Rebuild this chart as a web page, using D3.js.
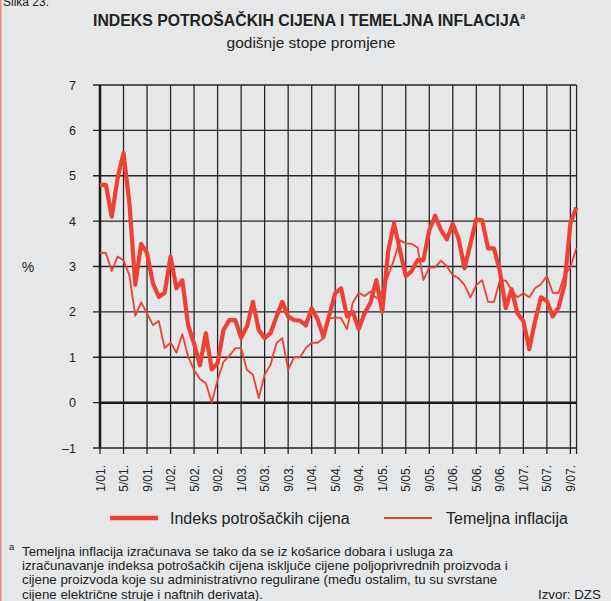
<!DOCTYPE html>
<html>
<head>
<meta charset="utf-8">
<script src="https://cdn.jsdelivr.net/npm/d3@7"></script>
<style>
  body { margin: 0; background: #e6e7e8; }
  svg { display: block; font-family: "Liberation Sans", Arial, sans-serif; }
</style>
</head>
<body>
<script>
// monthly data, 1/2001 - 10/2007
const startYear = 2001;
const cpi = [4.8, 4.8, 4.1, 4.95, 5.5, 4.4, 2.6, 3.5, 3.3, 2.63, 2.33, 2.42,
  3.22, 2.52, 2.7, 1.7, 1.3, 0.82, 1.53, 0.73, 0.87, 1.6, 1.82, 1.82,
  1.43, 1.68, 2.22, 1.6, 1.42, 1.53, 1.89, 2.22, 1.9, 1.82, 1.81, 1.7,
  2.08, 1.84, 1.45, 1.93, 2.41, 2.52, 1.9, 2.0, 1.62, 1.97, 2.2, 2.7,
  2.0, 3.33, 3.95, 3.36, 2.79, 2.9, 3.14, 3.14, 3.8, 4.12, 3.8, 3.6,
  3.94, 3.6, 2.96, 3.5, 4.04, 4.02, 3.4, 3.4, 2.9, 2.08, 2.5, 1.97,
  1.8, 1.18, 1.8, 2.32, 2.24, 1.9, 2.1, 2.6, 3.95, 4.3];
const core = [3.3, 3.3, 2.9, 3.22, 3.13, 2.81, 1.91, 2.21, 1.97, 1.71, 1.8, 1.2,
  1.32, 1.1, 1.51, 1.01, 0.72, 0.52, 0.43, 0.0, 0.5, 0.9, 1.03, 1.2,
  1.2, 0.72, 0.62, 0.1, 0.62, 0.83, 1.31, 1.42, 0.72, 1.0, 1.0, 1.2,
  1.32, 1.32, 1.42, 1.85, 1.88, 1.86, 1.62, 2.2, 2.42, 2.35, 2.45, 2.3,
  2.45, 2.8, 3.15, 3.58, 3.51, 3.5, 3.42, 2.7, 2.98, 2.98, 3.13, 3.0,
  2.81, 2.74, 2.59, 2.32, 2.59, 2.7, 2.22, 2.22, 2.7, 2.69, 2.48, 2.32,
  2.41, 2.32, 2.52, 2.61, 2.79, 2.42, 2.42, 2.81, 2.98, 3.4];
const yTicks = [-1, 0, 1, 2, 3, 4, 5, 6, 7];
const xTickMonths = d3.range(0, 81, 4);
const seriesNames = ["Indeks potrošačkih cijena", "Temeljna inflacija"];
const footnote = [
  "Temeljna inflacija izračunava se tako da se iz košarice dobara i usluga za",
  "izračunavanje indeksa potrošačkih cijena isključe cijene poljoprivrednih proizvoda i",
  "cijene proizvoda koje su administrativno regulirane (među ostalim, tu su svrstane",
  "cijene električne struje i naftnih derivata)."
];

const width = 611, height = 601;
const red = "#ef4034";
const svg = d3.select("body").append("svg")
  .attr("width", width)
  .attr("height", height);

svg.append("rect").attr("width", width).attr("height", height).attr("fill", "#e6e7e8");
svg.append("line").attr("x1", 0.75).attr("x2", 0.75).attr("y1", 0).attr("y2", height)
  .attr("stroke", "#e58c86").attr("stroke-width", 1.5);

svg.append("text").attr("x", 3).attr("y", 6).attr("font-size", 12).attr("fill", "#222").text("Slika 23.");

// title
let title = svg.append("text").attr("x", 309).attr("y", 26).attr("text-anchor", "middle")
  .attr("font-size", 15.8).attr("font-weight", "bold").attr("fill", "#222");
title.append("tspan").text("INDEKS POTROŠAČKIH CIJENA I TEMELJNA INFLACIJA");
title.append("tspan").attr("font-size", 8.5).attr("dy", -7).text("a");
svg.append("text").attr("x", 311).attr("y", 48).attr("text-anchor", "middle")
  .attr("font-size", 15.5).attr("fill", "#222").text("godišnje stope promjene");

const x = d3.scaleLinear().domain([0, 80]).range([100, 570.4]);
const y = d3.scaleLinear().domain([-1, 7]).range([448, 85]);
const xRight = x(81.05);

const g = svg.append("g");

// horizontal grid
g.selectAll(".hgrid").data(yTicks).enter().append("line")
  .attr("x1", 93).attr("x2", xRight)
  .attr("y1", d => y(d)).attr("y2", d => y(d))
  .attr("stroke", "#262626").attr("stroke-width", 1.3);

// vertical grid
g.selectAll(".vgrid").data(xTickMonths).enter().append("line")
  .attr("x1", d => x(d)).attr("x2", d => x(d))
  .attr("y1", y(7)).attr("y2", y(-1) + 6)
  .attr("stroke", "#262626").attr("stroke-width", 1.3);
g.append("line").attr("x1", xRight).attr("x2", xRight).attr("y1", y(7)).attr("y2", y(-1) + 6)
  .attr("stroke", "#262626").attr("stroke-width", 1.3);

// axis lines
g.append("line").attr("x1", x(0)).attr("x2", x(0)).attr("y1", y(7)).attr("y2", y(-1))
  .attr("stroke", "#1a1a1a").attr("stroke-width", 2.5);
g.append("line").attr("x1", x(0)).attr("x2", xRight).attr("y1", y(0)).attr("y2", y(0))
  .attr("stroke", "#1a1a1a").attr("stroke-width", 2.5);

// y labels
g.selectAll(".ylab").data(yTicks).enter().append("text")
  .attr("x", 76).attr("y", d => y(d) + 4.5)
  .attr("text-anchor", "end").attr("font-size", 12.5).attr("fill", "#222")
  .text(d => d < 0 ? "–" + Math.abs(d) : d);
svg.append("text").attr("x", 28).attr("y", 272).attr("text-anchor", "middle")
  .attr("font-size", 14).attr("fill", "#222").text("%");

// x labels
g.selectAll(".xlab").data(xTickMonths).enter().append("text")
  .attr("transform", d => `translate(${x(d) + 4.5}, 465) rotate(-90)`)
  .attr("text-anchor", "end").attr("font-size", 12).attr("fill", "#222")
  .text(d => `${(d % 12) + 1}/${String((startYear + Math.floor(d / 12)) % 100).padStart(2, "0")}.`);

// lines
const line = d3.line().x((d, i) => x(i)).y(d => y(d));
g.append("path").datum(core).attr("d", line).attr("fill", "none")
  .attr("stroke", red).attr("stroke-width", 1.8).attr("stroke-linejoin", "round");
g.append("path").datum(cpi).attr("d", line).attr("fill", "none")
  .attr("stroke", red).attr("stroke-width", 4.2).attr("stroke-linejoin", "round");

// legend
const legend = [
  {name: seriesNames[0], x1: 110, x2: 158, tx: 170, w: 4.5},
  {name: seriesNames[1], x1: 384, x2: 432, tx: 446, w: 2}
];
legend.forEach(l => {
  svg.append("line").attr("x1", l.x1).attr("x2", l.x2).attr("y1", 518).attr("y2", 518)
    .attr("stroke", red).attr("stroke-width", l.w);
  svg.append("text").attr("x", l.tx).attr("y", 524).attr("font-size", 16).attr("fill", "#222").text(l.name);
});

// footnote
svg.append("text").attr("x", 9).attr("y", 550).attr("font-size", 9.5).attr("fill", "#222").text("a");
svg.selectAll(".fn").data(footnote).enter().append("text")
  .attr("x", 22).attr("y", (d, i) => 556 + i * 14.2)
  .attr("font-size", 13.3).attr("fill", "#222").text(d => d);
svg.append("text").attr("x", 538).attr("y", 598.6).attr("font-size", 13.3).attr("fill", "#222").text("Izvor: DZS");
</script>
</body>
</html>
